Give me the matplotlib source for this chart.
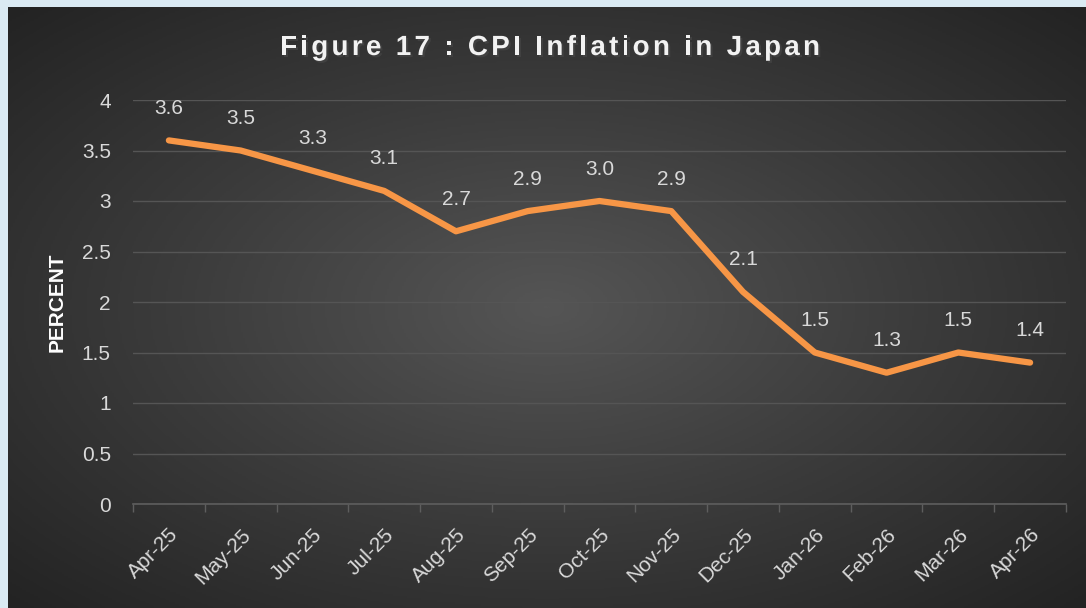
import numpy as np
import matplotlib.pyplot as plt
import matplotlib.patheffects as pe
from matplotlib.colors import LinearSegmentedColormap

# data
months = ['Apr-25', 'May-25', 'Jun-25', 'Jul-25', 'Aug-25', 'Sep-25', 'Oct-25',
          'Nov-25', 'Dec-25', 'Jan-26', 'Feb-26', 'Mar-26', 'Apr-26']
cpi = [3.6, 3.5, 3.3, 3.1, 2.7, 2.9, 3.0, 2.9, 2.1, 1.5, 1.3, 1.5, 1.4]
yticks = [0, 0.5, 1, 1.5, 2, 2.5, 3, 3.5, 4]
ytick_labels = ['0', '0.5', '1', '1.5', '2', '2.5', '3', '3.5', '4']
title = 'Figure 17 : CPI Inflation in Japan'

plt.rcParams['font.family'] = ['Liberation Sans', 'DejaVu Sans']

W, H = 1086, 608
fig = plt.figure(figsize=(W / 100, H / 100), dpi=100)
fig.patch.set_facecolor('#daeaf3')

# dark radial-gradient background panel
bg = fig.add_axes([8 / W, 0, 1 - 8 / W, 1 - 7 / H])
bg.set_axis_off()
yy, xx = np.mgrid[-1:1:300j, -1:1:540j]
r = np.sqrt(xx ** 2 + yy ** 2) / np.sqrt(2)
bg.imshow(r, cmap=LinearSegmentedColormap.from_list('g', ['#555555', '#3b3b3b', '#232323']),
          aspect='auto', extent=[0, 1, 0, 1])

ax = fig.add_axes([133 / W, (H - 504) / H, 933 / W, 404 / H])
ax.patch.set_alpha(0)

x = np.arange(len(months))
ax.plot(x, cpi, color='#f79646', lw=4.5, solid_capstyle='round', zorder=3)
for xi, v in zip(x, cpi):
    ax.annotate(f'{v:.1f}', (xi, v), xytext=(0, 23), textcoords='offset points',
                ha='center', va='center', color='#d9d9d9', fontsize=15)

ax.set_xlim(-0.5, len(months) - 0.5)
ax.set_ylim(0, 4)
ax.set_yticks(yticks)
ax.set_yticklabels(ytick_labels)
ax.set_xticks(x)
ax.set_xticklabels(months, rotation=45, ha='right', rotation_mode='anchor')
ax.set_xticks(np.arange(-0.5, len(months)), minor=True)
ax.tick_params(axis='x', which='major', length=0, pad=15, colors='#d9d9d9', labelsize=15)
ax.tick_params(axis='x', which='minor', length=6, color='#5e5e5e', width=1)
ax.tick_params(axis='y', length=0, pad=16, colors='#d9d9d9', labelsize=15)
for s in ['top', 'right', 'left']:
    ax.spines[s].set_visible(False)
ax.spines['bottom'].set_color('#5e5e5e')
ax.spines['bottom'].set_linewidth(1.2)
ax.grid(axis='y', color='#555555', lw=1)
ax.set_axisbelow(True)

ax.set_ylabel('PERCENT', color='white', fontsize=15, fontweight='bold', labelpad=11)

# letter-spaced title, placed one character at a time
fs = 20
rend = fig.canvas.get_renderer()
widths = []
for ch in title:
    if ch == ' ':
        widths.append(0.278 * fs * 100 / 72)
    else:
        t = fig.text(0, 0, ch, fontsize=fs, fontweight='bold')
        widths.append(t.get_window_extent(rend).width)
        t.remove()
track = (540 - sum(widths)) / (len(title) - 1)
xpos = 550 - 540 / 2
for ch, w in zip(title, widths):
    if ch != ' ':
        fig.text(xpos / W, 1 - 48 / H, ch, ha='left', va='center', color='#f2f2f2',
                 fontsize=fs, fontweight='bold',
                 path_effects=[pe.withSimplePatchShadow(offset=(1.5, -1.5), alpha=0.6)])
    xpos += w + track

fig.savefig('out.png', dpi=100, facecolor=fig.get_facecolor())
